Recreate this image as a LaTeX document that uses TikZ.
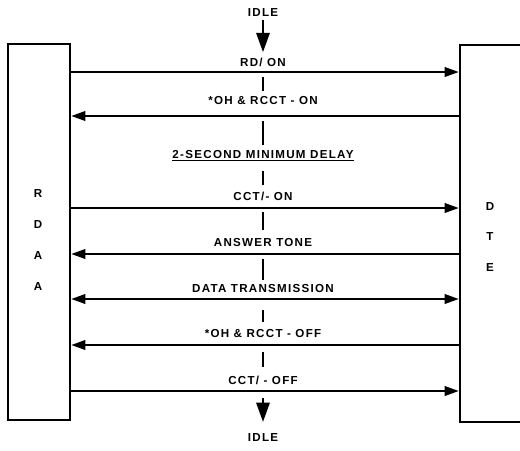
\documentclass[tikz,border=0pt]{standalone}
\usepackage{fontspec}
\setmainfont{Liberation Sans}[LetterSpace=11]
\usetikzlibrary{arrows.meta}

\begin{document}
\begin{tikzpicture}[
  x=0.02cm,y=-0.02cm,
  >={Triangle[length=8pt,width=5.5pt]},
  unit/.style={draw,line width=1.5pt,minimum width=1.24cm,minimum height=7.52cm,inner sep=0pt},
  unitname/.style={align=center,inner sep=0pt,font=\bfseries\fontsize{6.6}{17.6}\selectfont},
  msgtext/.style={inner sep=2pt,text height=4.7pt,text depth=0pt,font=\bfseries\fontsize{6.6}{7.5}\selectfont},
  msg/.style={line width=1pt},
  tick/.style={line width=1.2pt},
  idle/.style={line width=1.4pt,-{Triangle[length=11pt,width=7.5pt]}}
]
\useasboundingbox (0,0) rectangle (520,450);
\clip (0,0) rectangle (520,450);

\node[unit] (rdaa) at (39,232) {};
\node[unitname] (rdaaName) at (38,240) {R\\D\\A\\A};
\node[unit,minimum width=1.6cm,minimum height=7.54cm] (dte) at (500,233.5) {};
\node[unitname] (dteName) at (490,237) {D\\T\\E};

\node[msgtext] (idleTop) at (263,12) {IDLE};
\node[msgtext] (rdOn) at (263,62) {RD/ ON};
\node[msgtext] (ohOn) at (263,100) {*OH \& RCCT - ON};
\node[msgtext] (delay) at (263,154) {\underline{2-SECOND MINIMUM DELAY}};
\node[msgtext] (cctOn) at (263,196) {CCT/- ON};
\node[msgtext] (answer) at (263,242) {ANSWER TONE};
\node[msgtext] (data) at (263,288) {DATA TRANSMISSION};
\node[msgtext] (ohOff) at (263,333) {*OH \& RCCT - OFF};
\node[msgtext] (cctOff) at (263,380) {CCT/ - OFF};
\node[msgtext] (idleBot) at (263,437) {IDLE};

\draw[msg,->] (rdaa.east |- 0,72) -- (dte.west |- 0,72);
\draw[msg,->] (dte.west |- 0,116) -- (rdaa.east |- 0,116);
\draw[msg,->] (rdaa.east |- 0,208) -- (dte.west |- 0,208);
\draw[msg,->] (dte.west |- 0,254) -- (rdaa.east |- 0,254);
\draw[msg,<->] (rdaa.east |- 0,299) -- (dte.west |- 0,299);
\draw[msg,->] (dte.west |- 0,345) -- (rdaa.east |- 0,345);
\draw[msg,->] (rdaa.east |- 0,391) -- (dte.west |- 0,391);

% broken time axis between the messages
\foreach \from/\to in {77/91,121/145,171/185,212/230,259/280,310/322,352/367}
  \draw[tick] (263,\from) -- (263,\to);

\draw[idle,shorten >=1pt] (idleTop) -- (rdOn);
\coordinate (idleFrom) at (263,398);
\draw[idle,shorten >=4pt] (idleFrom) -- (idleBot);
\end{tikzpicture}
\end{document}
